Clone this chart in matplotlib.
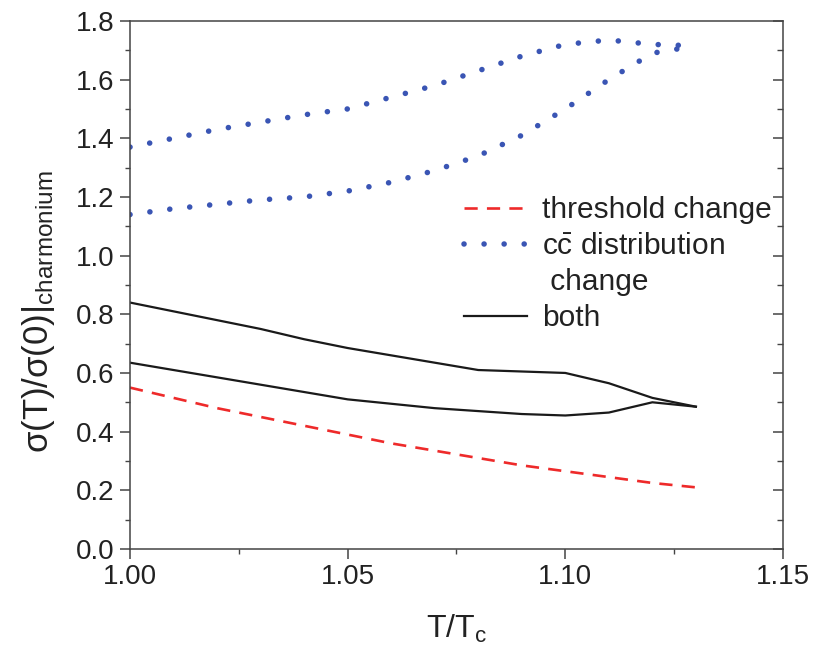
import matplotlib
matplotlib.use("Agg")
import matplotlib.pyplot as plt
from matplotlib.ticker import MultipleLocator, FormatStrFormatter
from matplotlib.lines import Line2D

plt.rcParams['font.family'] = ['Liberation Sans', 'DejaVu Sans']
plt.rcParams['mathtext.fontset'] = 'custom'
plt.rcParams['mathtext.rm'] = 'Liberation Sans'
plt.rcParams['mathtext.it'] = 'Liberation Sans'

t = [1.00, 1.01, 1.02, 1.03, 1.04, 1.05, 1.06, 1.07, 1.08, 1.09, 1.10, 1.11, 1.12, 1.13]

# threshold change
thresh = [0.55, 0.515, 0.48, 0.45, 0.42, 0.39, 0.36, 0.335, 0.31, 0.285, 0.265, 0.245, 0.225, 0.21]

# ccbar distribution change (upper and lower branches)
dist_hi = [1.37, 1.40, 1.43, 1.455, 1.48, 1.50, 1.54, 1.58, 1.63, 1.68, 1.72, 1.735, 1.72, 1.715]
dist_lo = [1.14, 1.16, 1.175, 1.19, 1.20, 1.22, 1.25, 1.29, 1.34, 1.41, 1.50, 1.60, 1.69, 1.715]

# both
both_hi = [0.84, 0.81, 0.78, 0.75, 0.715, 0.685, 0.66, 0.635, 0.61, 0.605, 0.60, 0.565, 0.515, 0.485]
both_lo = [0.635, 0.61, 0.585, 0.56, 0.535, 0.51, 0.495, 0.48, 0.47, 0.46, 0.455, 0.465, 0.50, 0.485]

fig = plt.figure(figsize=(8.15, 6.54), dpi=100)
ax = fig.add_axes([0.1595, 0.1606, 0.8012, 0.8074])

red = '#ee2a2a'
blue = '#3a55b4'
black = '#1a1a1a'
dots = (0, (0.01, 3.6))

ax.plot(t, thresh, color=red, lw=1.9, dashes=(5, 3.5))
ax.plot(t, dist_hi, color=blue, lw=4.0, linestyle=dots, dash_capstyle='round')
ax.plot(t, dist_lo, color=blue, lw=4.0, linestyle=dots, dash_capstyle='round')
ax.plot(t, both_hi, color=black, lw=1.6)
ax.plot(t, both_lo, color=black, lw=1.6)

ax.set_xlim(1.00, 1.15)
ax.set_ylim(0.0, 1.8)
ax.xaxis.set_major_locator(MultipleLocator(0.05))
ax.xaxis.set_minor_locator(MultipleLocator(0.025))
ax.yaxis.set_major_locator(MultipleLocator(0.2))
ax.yaxis.set_minor_locator(MultipleLocator(0.1))
ax.xaxis.set_major_formatter(FormatStrFormatter('%.2f'))
ax.yaxis.set_major_formatter(FormatStrFormatter('%.1f'))

# left / bottom: outward ticks; right: inward ticks; top: none
ax.tick_params(which='both', direction='out', color='#444444', labelcolor='#222222', labelsize=20)
ax.tick_params(axis='x', which='both', pad=4)
ax.tick_params(axis='y', which='both', pad=4)
ax.tick_params(which='major', length=7, width=1.1)
ax.tick_params(which='minor', length=3.5, width=1.0)
for s in ax.spines.values():
    s.set_linewidth(1.1)
    s.set_color('#444444')

ax_r = ax.twinx()
ax_r.set_ylim(ax.get_ylim())
ax_r.yaxis.set_major_locator(MultipleLocator(0.2))
ax_r.yaxis.set_minor_locator(MultipleLocator(0.1))
ax_r.tick_params(which='both', direction='in', labelright=False, color='#444444')
ax_r.tick_params(which='major', length=7, width=1.1)
ax_r.tick_params(which='minor', length=4, width=1.0)
for s in ax_r.spines.values():
    s.set_visible(False)

ax.set_xlabel(r'T/T$_\mathrm{c}$', fontsize=23, labelpad=16, color='#222222')
ax.set_ylabel(r'$\sigma$(T)/$\sigma$(0)|$_\mathrm{charmonium}$', fontsize=25, color='#222222')
ax.yaxis.set_label_coords(-0.112, 0.45)

handles = [
    Line2D([], [], color=red, lw=1.9, dashes=(5, 3.5)),
    Line2D([], [], color=blue, lw=4.0, linestyle=dots, dash_capstyle='round'),
    Line2D([], [], color='none'),
    Line2D([], [], color=black, lw=1.6),
]
labels = ['threshold change', r'c$\bar{\mathrm{c}}$ distribution', ' change', 'both']
leg = ax.legend(handles, labels, loc='upper left', bbox_to_anchor=(0.512, 0.668), frameon=False,
                borderpad=0, borderaxespad=0,
                fontsize=21.5, handlelength=2.1, handletextpad=0.5, labelspacing=0.27)
for txt in leg.get_texts():
    txt.set_color('#222222')

fig.savefig('out.png', dpi=100)
